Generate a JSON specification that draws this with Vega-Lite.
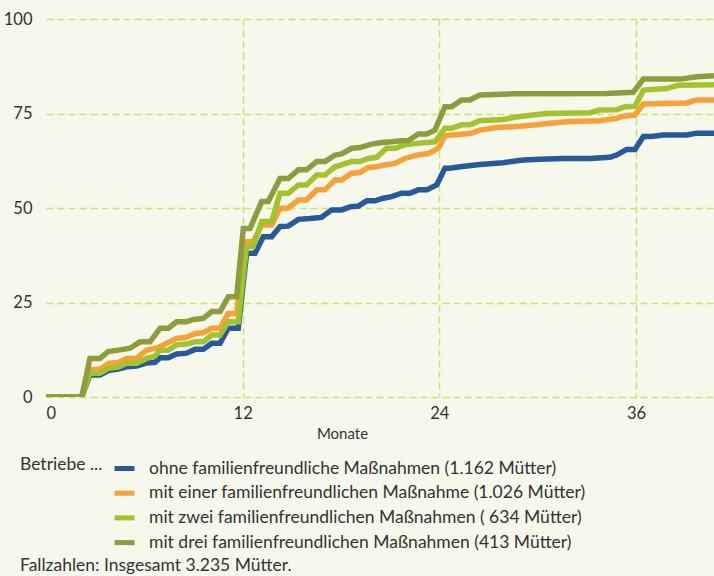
{
  "$schema": "https://vega.github.io/schema/vega-lite/v6.json",
  "width": 668,
  "height": 378,
  "autosize": {"type": "none"},
  "padding": {"left": 46, "top": 19, "right": 0, "bottom": 179},
  "background": "#f6f8eb",
  "config": {"view": {"stroke": null}, "font": "Lato"},
  "title": {"text": "Fallzahlen: Insgesamt 3.235 Mütter.", "orient": "bottom", "anchor": "start", "frame": "group", "dx": -26, "offset": 4, "fontSize": 17.5, "fontWeight": "normal", "color": "#333333"},
  "datasets": {
    "d": [
      {"s":"a","m":0,"v":0},{"s":"a","m":2.18,"v":0},{"s":"a","m":2.68,"v":5.8},{"s":"a","m":3.29,"v":5.8},{"s":"a","m":3.8,"v":7.0},{"s":"a","m":4.41,"v":7.4},{"s":"a","m":4.92,"v":8.0},{"s":"a","m":5.53,"v":8.2},{"s":"a","m":6.14,"v":9.0},{"s":"a","m":6.65,"v":9.2},{"s":"a","m":6.96,"v":10.4},{"s":"a","m":7.46,"v":10.4},{"s":"a","m":7.97,"v":11.4},{"s":"a","m":8.58,"v":11.6},{"s":"a","m":9.09,"v":12.6},{"s":"a","m":9.6,"v":12.6},{"s":"a","m":10.11,"v":14.2},{"s":"a","m":10.62,"v":14.2},{"s":"a","m":11.12,"v":18.2},{"s":"a","m":11.73,"v":18.2},{"s":"a","m":12.24,"v":38.0},{"s":"a","m":12.75,"v":38.0},{"s":"a","m":13.26,"v":42.4},{"s":"a","m":13.77,"v":42.4},{"s":"a","m":14.28,"v":45.1},{"s":"a","m":14.78,"v":45.2},{"s":"a","m":15.4,"v":47.0},{"s":"a","m":16.1,"v":47.2},{"s":"a","m":16.8,"v":47.5},{"s":"a","m":17.43,"v":49.5},{"s":"a","m":18.04,"v":49.5},{"s":"a","m":18.55,"v":50.3},{"s":"a","m":19.06,"v":50.5},{"s":"a","m":19.57,"v":51.9},{"s":"a","m":20.07,"v":51.9},{"s":"a","m":20.58,"v":52.6},{"s":"a","m":21.09,"v":53.0},{"s":"a","m":21.7,"v":53.9},{"s":"a","m":22.2,"v":53.9},{"s":"a","m":22.72,"v":54.8},{"s":"a","m":23.23,"v":54.8},{"s":"a","m":23.84,"v":56.1},{"s":"a","m":24.34,"v":60.5},{"s":"a","m":24.65,"v":60.5},{"s":"a","m":25.26,"v":60.9},{"s":"a","m":26.48,"v":61.5},{"s":"a","m":27.9,"v":62.0},{"s":"a","m":29.12,"v":62.7},{"s":"a","m":30.14,"v":62.9},{"s":"a","m":31.56,"v":63.1},{"s":"a","m":33.19,"v":63.1},{"s":"a","m":34.41,"v":63.4},{"s":"a","m":34.82,"v":64.0},{"s":"a","m":35.43,"v":65.5},{"s":"a","m":35.94,"v":65.5},{"s":"a","m":36.45,"v":68.9},{"s":"a","m":36.95,"v":68.9},{"s":"a","m":37.66,"v":69.3},{"s":"a","m":39.1,"v":69.3},{"s":"a","m":39.7,"v":69.8},{"s":"a","m":40.76,"v":69.8},
      {"s":"b","m":0,"v":0},{"s":"b","m":2.18,"v":0},{"s":"b","m":2.68,"v":7.3},{"s":"b","m":3.29,"v":7.3},{"s":"b","m":3.8,"v":8.9},{"s":"b","m":4.41,"v":9.1},{"s":"b","m":4.92,"v":10.2},{"s":"b","m":5.53,"v":10.2},{"s":"b","m":6.14,"v":12.4},{"s":"b","m":6.75,"v":12.9},{"s":"b","m":7.16,"v":13.8},{"s":"b","m":7.97,"v":15.5},{"s":"b","m":8.58,"v":15.8},{"s":"b","m":9.09,"v":16.8},{"s":"b","m":9.6,"v":17.0},{"s":"b","m":10.11,"v":18.2},{"s":"b","m":10.62,"v":18.2},{"s":"b","m":11.12,"v":22.1},{"s":"b","m":11.63,"v":22.1},{"s":"b","m":12.14,"v":41.1},{"s":"b","m":12.65,"v":41.1},{"s":"b","m":13.16,"v":45.5},{"s":"b","m":13.77,"v":45.5},{"s":"b","m":14.28,"v":49.9},{"s":"b","m":14.78,"v":50.0},{"s":"b","m":15.4,"v":52.1},{"s":"b","m":15.9,"v":52.1},{"s":"b","m":16.52,"v":54.8},{"s":"b","m":17.02,"v":54.8},{"s":"b","m":17.63,"v":57.4},{"s":"b","m":18.04,"v":57.4},{"s":"b","m":18.65,"v":59.2},{"s":"b","m":19.16,"v":59.4},{"s":"b","m":19.67,"v":60.7},{"s":"b","m":20.18,"v":60.9},{"s":"b","m":20.68,"v":61.4},{"s":"b","m":21.29,"v":61.8},{"s":"b","m":21.9,"v":63.1},{"s":"b","m":22.62,"v":64.0},{"s":"b","m":23.33,"v":64.4},{"s":"b","m":23.94,"v":65.8},{"s":"b","m":24.34,"v":69.1},{"s":"b","m":24.75,"v":69.3},{"s":"b","m":25.87,"v":69.7},{"s":"b","m":26.48,"v":70.6},{"s":"b","m":27.5,"v":71.3},{"s":"b","m":28.92,"v":71.6},{"s":"b","m":29.94,"v":72.0},{"s":"b","m":30.75,"v":72.4},{"s":"b","m":31.77,"v":72.8},{"s":"b","m":33.8,"v":73.1},{"s":"b","m":34.82,"v":73.7},{"s":"b","m":35.22,"v":74.3},{"s":"b","m":35.94,"v":74.6},{"s":"b","m":36.45,"v":77.5},{"s":"b","m":39.1,"v":77.8},{"s":"b","m":39.7,"v":78.6},{"s":"b","m":40.76,"v":78.6},
      {"s":"c","m":0,"v":0},{"s":"c","m":2.18,"v":0},{"s":"c","m":2.68,"v":6.3},{"s":"c","m":3.29,"v":6.3},{"s":"c","m":3.8,"v":7.6},{"s":"c","m":4.41,"v":7.9},{"s":"c","m":4.92,"v":8.9},{"s":"c","m":5.53,"v":8.9},{"s":"c","m":6.14,"v":10.2},{"s":"c","m":6.65,"v":10.8},{"s":"c","m":6.96,"v":12.4},{"s":"c","m":7.46,"v":12.4},{"s":"c","m":7.97,"v":13.8},{"s":"c","m":8.58,"v":14.0},{"s":"c","m":9.09,"v":14.6},{"s":"c","m":9.6,"v":14.6},{"s":"c","m":10.11,"v":16.4},{"s":"c","m":10.62,"v":16.4},{"s":"c","m":11.12,"v":19.9},{"s":"c","m":11.73,"v":19.9},{"s":"c","m":12.24,"v":39.8},{"s":"c","m":12.65,"v":39.8},{"s":"c","m":13.16,"v":46.4},{"s":"c","m":13.77,"v":46.4},{"s":"c","m":14.28,"v":53.9},{"s":"c","m":14.78,"v":53.9},{"s":"c","m":15.4,"v":56.1},{"s":"c","m":15.9,"v":56.1},{"s":"c","m":16.52,"v":58.7},{"s":"c","m":17.02,"v":58.7},{"s":"c","m":17.63,"v":60.9},{"s":"c","m":18.04,"v":61.4},{"s":"c","m":18.65,"v":62.3},{"s":"c","m":19.16,"v":62.3},{"s":"c","m":19.67,"v":63.1},{"s":"c","m":20.18,"v":63.4},{"s":"c","m":20.78,"v":65.8},{"s":"c","m":21.29,"v":65.8},{"s":"c","m":21.9,"v":66.7},{"s":"c","m":22.62,"v":67.1},{"s":"c","m":23.73,"v":67.5},{"s":"c","m":24.34,"v":71.1},{"s":"c","m":24.75,"v":71.1},{"s":"c","m":25.36,"v":72.0},{"s":"c","m":25.87,"v":72.0},{"s":"c","m":26.48,"v":73.1},{"s":"c","m":27.9,"v":73.4},{"s":"c","m":28.71,"v":74.1},{"s":"c","m":29.73,"v":74.6},{"s":"c","m":30.55,"v":75.0},{"s":"c","m":33.19,"v":75.2},{"s":"c","m":33.8,"v":75.9},{"s":"c","m":34.82,"v":76.0},{"s":"c","m":35.33,"v":76.8},{"s":"c","m":35.94,"v":76.9},{"s":"c","m":36.45,"v":81.2},{"s":"c","m":37.87,"v":81.6},{"s":"c","m":38.58,"v":82.5},{"s":"c","m":40.76,"v":82.6},
      {"s":"d","m":0,"v":0},{"s":"d","m":2.18,"v":0},{"s":"d","m":2.68,"v":10.2},{"s":"d","m":3.29,"v":10.2},{"s":"d","m":3.8,"v":12.0},{"s":"d","m":4.72,"v":12.6},{"s":"d","m":5.12,"v":12.9},{"s":"d","m":5.74,"v":14.6},{"s":"d","m":6.35,"v":14.6},{"s":"d","m":6.96,"v":18.2},{"s":"d","m":7.46,"v":18.2},{"s":"d","m":7.97,"v":19.9},{"s":"d","m":8.58,"v":19.9},{"s":"d","m":8.99,"v":20.5},{"s":"d","m":9.6,"v":20.8},{"s":"d","m":10.11,"v":22.6},{"s":"d","m":10.62,"v":22.6},{"s":"d","m":11.12,"v":26.5},{"s":"d","m":11.63,"v":26.5},{"s":"d","m":12.04,"v":44.6},{"s":"d","m":12.45,"v":44.6},{"s":"d","m":13.16,"v":51.7},{"s":"d","m":13.56,"v":51.7},{"s":"d","m":14.28,"v":57.8},{"s":"d","m":14.78,"v":57.8},{"s":"d","m":15.4,"v":60.1},{"s":"d","m":15.9,"v":60.1},{"s":"d","m":16.52,"v":62.3},{"s":"d","m":17.02,"v":62.3},{"s":"d","m":17.63,"v":64.0},{"s":"d","m":18.04,"v":64.3},{"s":"d","m":18.65,"v":65.8},{"s":"d","m":19.16,"v":66.0},{"s":"d","m":19.87,"v":66.9},{"s":"d","m":20.48,"v":67.3},{"s":"d","m":21.09,"v":67.5},{"s":"d","m":21.7,"v":67.8},{"s":"d","m":22.1,"v":67.8},{"s":"d","m":22.72,"v":69.6},{"s":"d","m":23.23,"v":69.6},{"s":"d","m":23.73,"v":70.6},{"s":"d","m":24.34,"v":76.8},{"s":"d","m":24.75,"v":76.8},{"s":"d","m":25.36,"v":78.6},{"s":"d","m":25.87,"v":78.6},{"s":"d","m":26.48,"v":79.9},{"s":"d","m":28.5,"v":80.2},{"s":"d","m":34.2,"v":80.3},{"s":"d","m":35.83,"v":80.6},{"s":"d","m":36.45,"v":84.1},{"s":"d","m":38.7,"v":84.1},{"s":"d","m":39.7,"v":84.7},{"s":"d","m":40.76,"v":85.0}
    ]
  },
  "data": {"name": "d"},
  "mark": {"type": "line", "strokeWidth": 5.5, "clip": true},
  "encoding": {
    "x": {
      "field": "m", "type": "quantitative",
      "scale": {"domain": [0, 40.76], "nice": false, "zero": false},
      "axis": {
        "values": [0, 12, 24, 36], "title": "Monate", "domain": false, "ticks": false,
        "labelFontSize": 16.5, "labelColor": "#333333", "labelPadding": 8,
        "titleFontSize": 15, "titleFontWeight": "normal", "titleColor": "#333333",
        "titleX": 296, "titleY": 41, "titleBaseline": "alphabetic", "titleAnchor": "middle",
        "grid": true, "gridDash": [7, 4], "gridColor": "#cfe070", "gridWidth": 1.5,
        "gridOpacity": {"condition": {"test": "datum.value === 0", "value": 0}, "value": 1}
      }
    },
    "y": {
      "field": "v", "type": "quantitative",
      "scale": {"domain": [0, 100], "nice": false},
      "axis": {
        "values": [0, 25, 50, 75, 100], "title": null, "domain": false, "ticks": false,
        "labelFontSize": 16.5, "labelColor": "#333333", "labelPadding": 14,
        "grid": true, "gridDash": [7, 4], "gridColor": "#cfe070", "gridWidth": 1.5
      }
    },
    "color": {
      "field": "s", "type": "nominal",
      "scale": {"domain": ["a", "b", "c", "d"], "range": ["#28599a", "#f8a03a", "#a3c32e", "#8e9c3b"]},
      "legend": {
        "orient": "none", "legendX": -26, "legendY": 437, "padding": 0,
        "title": "Betriebe ...", "titleOrient": "left", "titleAnchor": "start", "titleBaseline": "top",
        "titleFontSize": 17.5, "titleFontWeight": "normal", "titleColor": "#333333", "titlePadding": 9,
        "labelFontSize": 17.5, "labelColor": "#333333", "labelOffset": 12, "labelLimit": 600,
        "symbolType": "stroke", "symbolStrokeWidth": 5, "symbolSize": 400, "rowPadding": 1.7,
        "labelExpr": "{'a': 'ohne familienfreundliche Maßnahmen (1.162 Mütter)', 'b': 'mit einer familienfreundlichen Maßnahme (1.026 Mütter)', 'c': 'mit zwei familienfreundlichen Maßnahmen ( 634 Mütter)', 'd': 'mit drei familienfreundlichen Maßnahmen (413 Mütter)'}[datum.label]"
      }
    }
  }
}
